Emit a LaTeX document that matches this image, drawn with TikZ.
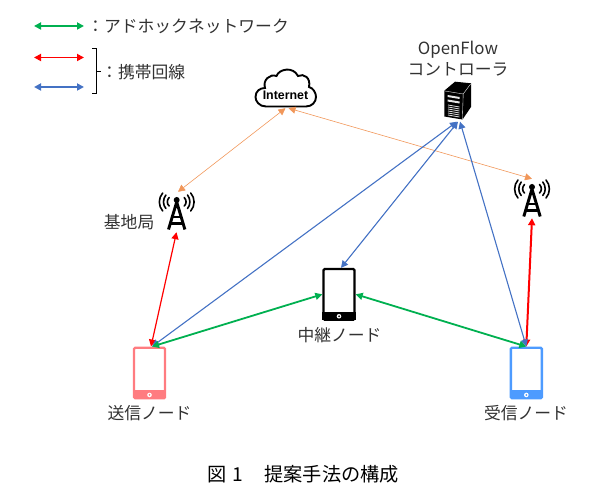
\documentclass[tikz,border=0pt]{standalone}
\usepackage{fontspec}
\setmainfont{Noto Sans CJK JP}
\newfontfamily\latinbold{Liberation Sans}[BoldFont={Liberation Sans Bold}]
\usetikzlibrary{arrows.meta,calc}
\definecolor{grn}{RGB}{0,176,80}
\definecolor{rd}{RGB}{255,0,0}
\definecolor{blu}{RGB}{68,114,196}
\definecolor{org}{RGB}{237,125,49}
\definecolor{pnk}{RGB}{255,124,128}
\definecolor{sky}{RGB}{77,155,255}
\definecolor{ink}{RGB}{50,50,50}
\tikzset{
  lab/.style={inner sep=0pt,font=\fontsize{16.8pt}{20pt}\selectfont,text=ink},
  captext/.style={inner sep=0pt,font=\fontsize{19.2pt}{22pt}\selectfont,text=black},
  bothtips/.style={{Triangle[length=#1,width=#1]}-{Triangle[length=#1,width=#1]}},
  gline/.style={draw=grn,line width=1.8pt,bothtips=7pt},
  rline/.style={draw=rd,line width=1.2pt,bothtips=7pt},
  rthick/.style={draw=rd,line width=2pt,bothtips=7pt},
  bline/.style={draw=blu,line width=1.1pt,bothtips=7pt},
  oline/.style={draw=org!80,line width=0.6pt,bothtips=7pt},
  legendg/.style={draw=grn,line width=1.8pt,bothtips=7pt},
  legendr/.style={draw=rd,line width=1.8pt,bothtips=7pt},
  legendb/.style={draw=blu,line width=1.8pt,bothtips=7pt},
  phone/.style={draw=#1,fill=white,line width=2.4pt,rounded corners=1.2pt,inner sep=0pt,
     minimum width=31pt,minimum height=50.5pt},
  spot/.style={inner sep=0pt,minimum width=#1},
  antenna/.pic={
    \fill[black] (0,0) circle (3pt);
    \draw[black,line width=2.9pt,line join=miter] (-8.2,29.5) -- (0,2) -- (8.2,29.5);
    \draw[black,line width=2.2pt] (-4.8,17) -- (4.8,17) (-6.4,23.5) -- (6.4,23.5);
    \foreach \s in {-1,1}{
      \draw[black,line width=1.6pt,line cap=round] (\s*7.5,-2.5) .. controls (\s*10,0) and (\s*10,4) .. (\s*7.5,6);
      \draw[black,line width=1.6pt,line cap=round] (\s*10.8,-5) .. controls (\s*14,-1) and (\s*14,5) .. (\s*10.8,8.5);
      \draw[black,line width=1.6pt,line cap=round] (\s*14,-7) .. controls (\s*18.5,-2) and (\s*18.5,6) .. (\s*14,11);
    }
  }
}
\newcommand{\phonebits}[2]{%
  \fill[#2] ($(#1.south west)+(0,-1)$) rectangle ($(#1.south east)+(0,-9)$);
  \fill[white] ($(#1.south)+(0,-4.5)$) circle (2.3pt);
  \fill[#2] ($(#1.south)+(0,-4.5)$) circle (1pt);
}
\begin{document}
\begin{tikzpicture}[x=1pt,y=-1pt]
\useasboundingbox (0,0) rectangle (594,486);
% legend
\coordinate (g1) at (34,26); \coordinate (g2) at (84,26);
\coordinate (r1) at (34,57.5); \coordinate (r2) at (84,57.5);
\coordinate (b1) at (34,87); \coordinate (b2) at (84,87);
\draw[legendg] (g1) -- (g2);
\draw[legendr] (r1) -- (r2);
\draw[legendb] (b1) -- (b2);
\node[lab,anchor=west] (t1) at (87,26.5) {：アドホックネットワーク};
\node[lab,anchor=west] (t2) at (101,72) {：携帯回線};
\draw[black,line width=0.7pt] (92,48.5) -- (96.5,48.5) -- (96.5,93) -- (92,93) (96.5,71) -- (100.5,71);
% cloud
\path[draw=black,fill=white,line width=1.9pt]
 (266,106.5) .. controls (259,106.5) and (255.5,101) .. (255.5,97)
 .. controls (255.5,91) and (260,88) .. (265,88)
 .. controls (262.5,80) and (270,73.5) .. (276.5,76)
 .. controls (279,69) and (293,66) .. (298,76)
 .. controls (304,73) and (311,78) .. (309,87)
 .. controls (313,88) and (316,92.5) .. (316,97)
 .. controls (316,102) and (312,106.5) .. (306,106.5) -- cycle;
\node[inner sep=0pt,font=\latinbold\bfseries\fontsize{12.4pt}{14pt}\selectfont] (net) at (285.5,95.5) {Internet};
\node[spot=61pt,minimum height=39pt] (cloud) at (285.5,88.5) {};
% server
\node[lab,align=center] (of) at (458,58.5) {OpenFlow\\[0.5pt]コントローラ};
\node[spot=27pt,minimum height=41pt] (srv) at (457,101) {};
\fill[black] (444.3,90.7) -- (455,81.7) -- (471,83.3) -- (471,107) -- (462.5,119.5) -- (444.3,116.5) -- cycle;
\draw[white,line width=0.35pt] (444.8,91) -- (463.2,94) -- (470.6,84) (463.2,94) -- (462.4,119);
\fill[white!90!black] (447.5,95) -- (459.5,97) -- (459.5,99) -- (447.5,97) -- cycle;
\fill[white!90!black] (447.5,99.5) -- (459.5,101.5) -- (459.5,103.5) -- (447.5,101.5) -- cycle;
\foreach \d in {0,2,4,6,8,10}{
  \draw[white!85!black,line width=0.8pt] (448,105+\d) -- (459.5,107+\d);
}
% antennas
\path (176.7,200) pic {antenna};
\path (532,187) pic {antenna};
\node[spot=35pt,minimum height=40pt] (antL) at (176.5,212) {};
\node[spot=35pt,minimum height=39pt] (antR) at (532,198.5) {};
\node[lab,anchor=east] (bs) at (154.5,222) {基地局};
% phones
\node[phone=black] (mid) at (339,294.3) {};
\phonebits{mid}{black}
\node[phone=pnk] (pL) at (149.5,373) {};
\phonebits{pL}{pnk}
\node[phone=sky] (pR) at (526.3,373) {};
\phonebits{pR}{sky}
\node[lab] (lm) at (339.5,335.5) {中継ノード};
\node[lab] (ll) at (149.5,413) {送信ノード};
\node[lab] (lr) at (526,413) {受信ノード};
% connectors
\draw[oline] (cloud.south) -- ([xshift=1.5pt]antL.north);
\draw[oline] ([xshift=3pt]cloud.south) -- (antR.north);
\draw[rline] (antL.south) -- ([xshift=1.5pt]pL.north);
\draw[rthick] (antR.south) -- (pR.north);
\draw[bline] (srv.south) -- ([xshift=2.5pt]pL.north);
\draw[bline] ([xshift=1pt]srv.south) -- ([xshift=2pt]mid.north);
\draw[bline] ([xshift=3pt]srv.south) -- (pR.north);
\draw[gline] ([xshift=2.5pt]pL.north) -- (mid.west);
\draw[gline] (mid.east) -- (pR.north);
% caption
\node[captext,anchor=west] (capt) at (207.5,474.5) {図\hspace{0.3em}1\hspace{1.1em}提案手法の構成};
\end{tikzpicture}
\end{document}
